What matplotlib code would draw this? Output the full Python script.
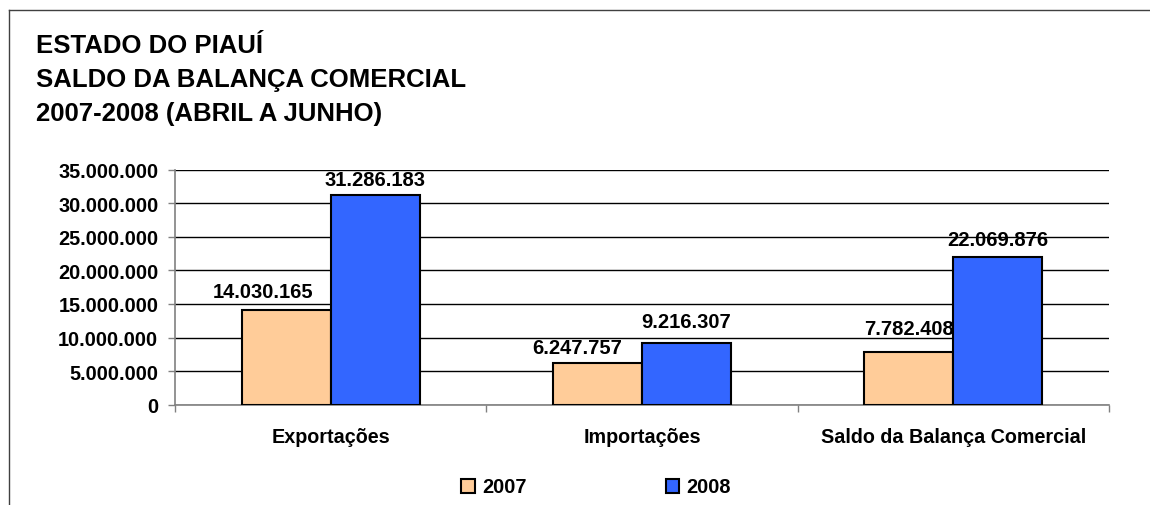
import matplotlib
matplotlib.use("Agg")
import matplotlib.pyplot as plt
from matplotlib.ticker import FuncFormatter, FixedLocator
from matplotlib.lines import Line2D
from matplotlib.patches import Patch

categories = ["Exportações", "Importações", "Saldo da Balança Comercial"]
series_names = ["2007", "2008"]
values_2007 = [14030165, 6247757, 7782408]
values_2008 = [31286183, 9216307, 22069876]
y_ticks = [0, 5000000, 10000000, 15000000, 20000000, 25000000, 30000000, 35000000]
title_lines = ["ESTADO DO PIAUÍ", "SALDO DA BALANÇA COMERCIAL", "2007-2008 (ABRIL A JUNHO)"]

# label placement tweaks (pixels) -- style only
off_2007 = [(-23, 13), (-20, 10), (0, 18)]
off_2008 = [(0, 10), (0, 16), (0, 12)]

plt.rcParams['font.family'] = ['Liberation Sans', 'DejaVu Sans']
plt.rcParams['font.weight'] = 'bold'

DPI = 100
W, H = 1150, 506
fig = plt.figure(figsize=(W / DPI, H / DPI), dpi=DPI)
fig.patch.set_facecolor('white')

# border
fig.add_artist(Line2D([9 / W, 1.0], [1 - 11 / H, 1 - 11 / H], color='#404040', lw=1.0, transform=fig.transFigure))
fig.add_artist(Line2D([9 / W, 9 / W], [1 - 11 / H, 0], color='#404040', lw=1.0, transform=fig.transFigure))

# title
for i, line in enumerate(title_lines):
    fig.text(36 / W, 1 - (53 + 34 * i) / H, line, fontsize=18.5, fontweight='bold',
             ha='left', va='baseline')

ax_left, ax_right = 175 / W, 1109 / W
ax_bottom, ax_top = 1 - 405.7 / H, 1 - 170.7 / H
ax = fig.add_axes([ax_left, ax_bottom, ax_right - ax_left, ax_top - ax_bottom])

x = list(range(len(categories)))
bw = 0.286
c2007 = '#FFCC99'
c2008 = '#3366FF'
b1 = ax.bar([xi - bw / 2 for xi in x], values_2007, width=bw, color=c2007,
            edgecolor='black', linewidth=1.5, zorder=3)
b2 = ax.bar([xi + bw / 2 for xi in x], values_2008, width=bw, color=c2008,
            edgecolor='black', linewidth=1.5, zorder=4)

def fmt(v, pos=None):
    return f"{int(v):,}".replace(",", ".")

px = 72.0 / DPI
for rect, v, (dx, dy) in zip(b1, values_2007, off_2007):
    ax.annotate(fmt(v), (rect.get_x() + rect.get_width() / 2, v),
                xytext=(dx * px, dy * px), textcoords='offset points',
                ha='center', va='baseline', fontsize=14.5, fontweight='bold', zorder=3.5)
for rect, v, (dx, dy) in zip(b2, values_2008, off_2008):
    ax.annotate(fmt(v), (rect.get_x() + rect.get_width() / 2, v),
                xytext=(dx * px, dy * px), textcoords='offset points',
                ha='center', va='baseline', fontsize=14.5, fontweight='bold', zorder=5)

ax.set_xlim(-0.5, len(categories) - 0.5)
ax.set_ylim(y_ticks[0], y_ticks[-1])
ax.set_yticks(y_ticks)
ax.yaxis.set_major_formatter(FuncFormatter(fmt))
ax.grid(axis='y', color='black', linewidth=1.0, zorder=0)
ax.set_axisbelow(True)

ax.xaxis.set_major_locator(FixedLocator([i - 0.5 for i in range(len(categories) + 1)]))
ax.xaxis.set_minor_locator(FixedLocator(x))
ax.set_xticklabels([], minor=False)
ax.set_xticklabels(categories, minor=True)
ax.tick_params(axis='x', which='major', length=5, width=1.0, color='#808080', direction='out')
ax.tick_params(axis='x', which='minor', length=0, pad=16, labelsize=14.2)
ax.tick_params(axis='y', length=5, width=1.0, color='#808080', direction='out', pad=7, labelsize=14.3)
for lab in ax.get_xticklabels(minor=True) + ax.get_yticklabels():
    lab.set_fontweight('bold')

for s in ['top', 'right']:
    ax.spines[s].set_visible(False)
for s in ['left', 'bottom']:
    ax.spines[s].set_color('#808080')
    ax.spines[s].set_linewidth(1.2)

handles = [Patch(facecolor=c2007, edgecolor='black', linewidth=1.5),
           Patch(facecolor=c2008, edgecolor='black', linewidth=1.5)]
leg = fig.legend(handles, series_names, loc='center', bbox_to_anchor=(596 / W, 1 - 488 / H),
                 ncol=2, frameon=False, fontsize=14.3, handlelength=0.7, handleheight=0.7,
                 handletextpad=0.35, columnspacing=7.0, borderaxespad=0, borderpad=0)
for t in leg.get_texts():
    t.set_fontweight('bold')

fig.savefig("out.png", dpi=DPI, facecolor='white')
